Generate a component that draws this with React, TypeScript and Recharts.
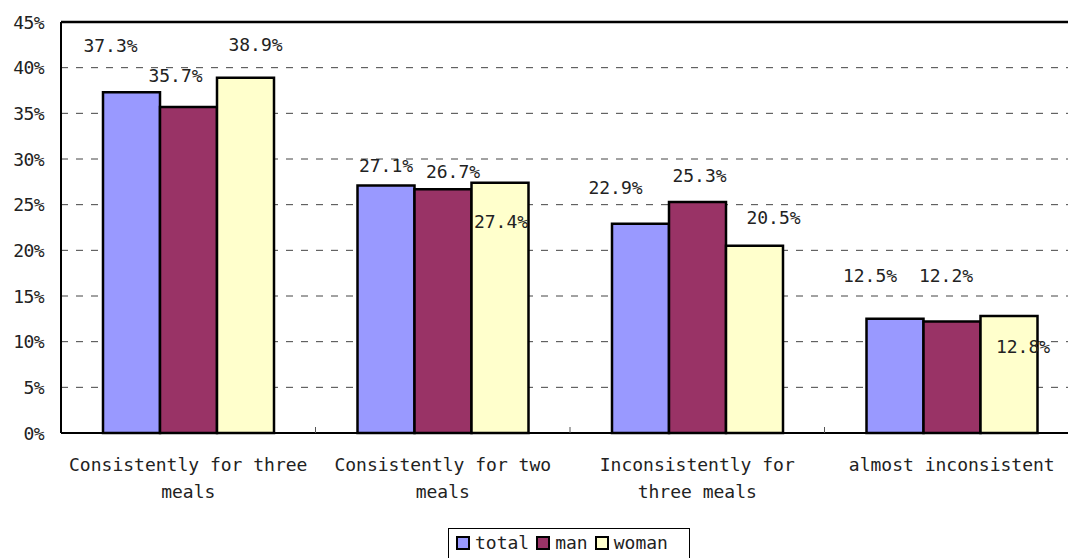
import React from "react";
import { BarChart, Bar, XAxis, YAxis, CartesianGrid, LabelList, ReferenceLine } from "recharts";

const categories = [
  "Consistently for three\nmeals",
  "Consistently for two\nmeals",
  "Inconsistently for\nthree meals",
  "almost inconsistent",
];
const totalValues = [37.3, 27.1, 22.9, 12.5];
const manValues = [35.7, 26.7, 25.3, 12.2];
const womanValues = [38.9, 27.4, 20.5, 12.8];
const yTicks = [0, 5, 10, 15, 20, 25, 30, 35, 40, 45];

// label offsets (dx, dy) relative to the top-centre of each bar, as placed in the original
const totalLabelOffsets = [[-21, -47], [0, -20], [-25, -36], [-25, -43]];
const manLabelOffsets = [[-13, -31], [10, -18], [2, -26], [-6, -46]];
const womanLabelOffsets = [[10, -33], [1, 39], [19, -28], [14, 30]];

const series = [
  { key: "total", color: "#9999FF", values: totalValues, offsets: totalLabelOffsets },
  { key: "man", color: "#993366", values: manValues, offsets: manLabelOffsets },
  { key: "woman", color: "#FFFFCC", values: womanValues, offsets: womanLabelOffsets },
];

const data = categories.map((c, i) => ({
  category: c,
  total: totalValues[i],
  man: manValues[i],
  woman: womanValues[i],
}));

const MONO = "'DejaVu Sans Mono', monospace";
const TEXT = "#222";
const CHART_W = 1090;
const CHART_H = 558;
const MARGIN = { top: 22, right: 11, bottom: 45, left: 0 };
const YAXIS_W = 61;
const XAXIS_H = 80;
const AXIS_Y = CHART_H - MARGIN.bottom - XAXIS_H;
const BAND = (CHART_W - MARGIN.left - MARGIN.right - YAXIS_W) / categories.length;

const XTick = (props: any) => {
  const { x, payload, index } = props;
  const lines = String(payload.value).split("\n");
  return (
    <g>
      {index < categories.length - 1 && (
        <line x1={x + BAND / 2} x2={x + BAND / 2} y1={AXIS_Y} y2={AXIS_Y - 6} stroke="#555" strokeWidth={1} />
      )}
      {lines.map((l, i) => (
        <text key={i} x={x} y={AXIS_Y + 38 + i * 27} textAnchor="middle" fontFamily={MONO} fontSize={18} fill={TEXT}>
          {l}
        </text>
      ))}
    </g>
  );
};

const YTick = (props: any) => {
  const { y, payload } = props;
  return (
    <text x={YAXIS_W - 17} y={y} textAnchor="end" dominantBaseline="central" fontFamily={MONO} fontSize={18} letterSpacing={-0.6} fill={TEXT}>
      {`${payload.value}%`}
    </text>
  );
};

const makeLabel = (offsets: number[][]) => (props: any) => {
  const { x, y, width, index, value } = props;
  const [dx, dy] = offsets[index];
  return (
    <text x={x + width / 2 + dx} y={y + dy} textAnchor="middle" dominantBaseline="central" fontFamily={MONO} fontSize={18} fill={TEXT}>
      {`${value}%`}
    </text>
  );
};

const Legend = () => (
  <div
    style={{
      position: "absolute",
      left: 448,
      top: 528,
      width: 242,
      height: 36,
      border: "1px solid #000",
      background: "#fff",
      display: "flex",
      alignItems: "flex-start",
      paddingTop: 4,
      paddingLeft: 7,
      boxSizing: "border-box",
      fontFamily: MONO,
      fontSize: 18,
      color: TEXT,
    }}
  >
    {series.map((s) => (
      <div key={s.key} style={{ display: "flex", alignItems: "center", marginRight: 7 }}>
        <span
          style={{
            display: "inline-block",
            width: 10,
            height: 10,
            background: s.color,
            border: "2px solid #000",
            marginRight: 5,
          }}
        />
        <span style={{ lineHeight: "20px" }}>{s.key}</span>
      </div>
    ))}
  </div>
);

export default function App() {
  return (
    <div
      style={{
        position: "fixed",
        left: 0,
        top: 0,
        width: 1068,
        height: 558,
        overflow: "hidden",
        background: "#fff",
      }}
    >
      <BarChart width={CHART_W} height={CHART_H} data={data} margin={MARGIN} barCategoryGap={42} barGap={0}>
        <CartesianGrid vertical={false} stroke="#444" strokeDasharray="7 8" />
        <XAxis
          dataKey="category"
          height={XAXIS_H}
          tick={<XTick />}
          tickLine={false}
          axisLine={{ stroke: "#000", strokeWidth: 2 }}
          interval={0}
        />
        <YAxis
          width={YAXIS_W}
          domain={[0, 45]}
          ticks={yTicks}
          tick={<YTick />}
          tickLine={false}
          axisLine={{ stroke: "#000", strokeWidth: 2 }}
          interval={0}
        />
        <ReferenceLine y={45} stroke="#000" strokeWidth={2.5} />
        {series.map((s) => (
          <Bar key={s.key} dataKey={s.key} fill={s.color} stroke="#000" strokeWidth={2.5} isAnimationActive={false}>
            <LabelList dataKey={s.key} content={makeLabel(s.offsets)} />
          </Bar>
        ))}
      </BarChart>
      <Legend />
    </div>
  );
}
